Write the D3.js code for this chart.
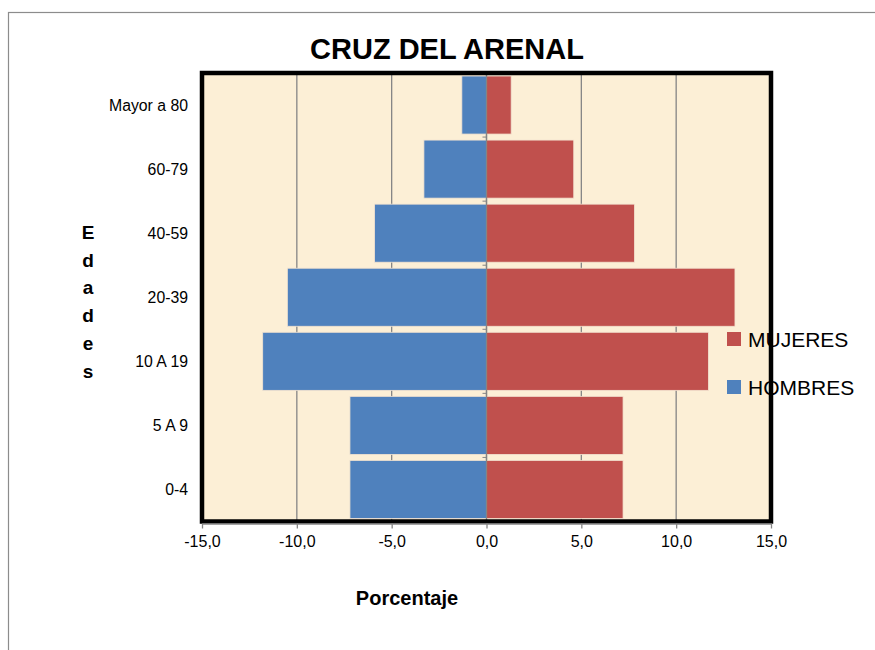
<!DOCTYPE html>
<html>
<head>
<meta charset="utf-8">
<script src="https://cdn.jsdelivr.net/npm/d3@7"></script>
<style>
  body { margin: 0; background: #fff; }
  svg { display: block; font-family: "Liberation Sans", Arial, sans-serif; }
</style>
</head>
<body>
<div id="chart"></div>
<script>
// age groups, bottom to top
var categories = ["0-4", "5 A 9", "10 A 19", "20-39", "40-59", "60-79", "Mayor a 80"];
var hombres = [-7.2, -7.2, -11.8, -10.5, -5.9, -3.3, -1.3];
var mujeres = [7.2, 7.2, 11.7, 13.1, 7.8, 4.6, 1.3];
var xTicks = [-15, -10, -5, 0, 5, 10, 15];
var seriesNames = ["MUJERES", "HOMBRES"];

var width = 875, height = 650;
var plot = {left: 202, right: 771, top: 73, bottom: 521.5};

var svg = d3.select("#chart")
  .append("svg")
    .attr("width", width)
    .attr("height", height);

// outer chart frame
svg.append("rect")
  .attr("x", 8.5).attr("y", 12.5)
  .attr("width", 900).attr("height", 700)
  .attr("fill", "#fff")
  .attr("stroke", "#8c8c8c")
  .attr("stroke-width", 1.2);

var x = d3.scaleLinear()
  .domain([-15, 15])
  .range([plot.left, plot.right]);

var y = d3.scaleBand()
  .domain(categories.slice().reverse())
  .range([plot.top, plot.bottom])
  .paddingInner(0.094)
  .paddingOuter(0.047);

var loc = d3.formatLocale({decimal: ",", thousands: ".", grouping: [3], currency: ["", ""], minus: "-"});
var fmt = loc.format(".1f");

// plot background
svg.append("rect")
  .attr("x", plot.left).attr("y", plot.top)
  .attr("width", plot.right - plot.left)
  .attr("height", plot.bottom - plot.top)
  .attr("fill", "#fcefd6");

// gridlines
svg.append("g")
  .selectAll("line")
  .data(xTicks.filter(function(d) { return d !== -15 && d !== 15; }))
  .enter().append("line")
    .attr("x1", function(d) { return x(d); })
    .attr("x2", function(d) { return x(d); })
    .attr("y1", plot.top)
    .attr("y2", plot.bottom)
    .attr("stroke", "#858585")
    .attr("stroke-width", 1.3);

// bars
var rows = categories.map(function(c, i) { return {cat: c, h: hombres[i], m: mujeres[i]}; });

svg.append("g")
  .selectAll("rect")
  .data(rows)
  .enter().append("rect")
    .attr("x", function(d) { return x(d.h); })
    .attr("y", function(d) { return y(d.cat); })
    .attr("width", function(d) { return x(0) - x(d.h); })
    .attr("height", y.bandwidth())
    .attr("fill", "#4f81bd")
    .attr("stroke", "#f3e3d0")
    .attr("stroke-width", 0.8);

svg.append("g")
  .selectAll("rect")
  .data(rows)
  .enter().append("rect")
    .attr("x", x(0))
    .attr("y", function(d) { return y(d.cat); })
    .attr("width", function(d) { return x(d.m) - x(0); })
    .attr("height", y.bandwidth())
    .attr("fill", "#c0504d")
    .attr("stroke", "#f3e3d0")
    .attr("stroke-width", 0.8);

// vertical category axis at zero
var yAxisLine = svg.append("g");
yAxisLine.append("line")
  .attr("x1", x(0)).attr("x2", x(0))
  .attr("y1", plot.top).attr("y2", plot.bottom)
  .attr("stroke", "#858585")
  .attr("stroke-width", 1.3);
var bounds = [plot.top];
categories.slice().reverse().forEach(function(c) {
  bounds.push(y(c) + y.bandwidth() + y.step() * y.paddingInner() / 2);
});
yAxisLine.selectAll(".tk")
  .data(bounds)
  .enter().append("line")
    .attr("x1", x(0) - 4).attr("x2", x(0))
    .attr("y1", function(d) { return d; })
    .attr("y2", function(d) { return d; })
    .attr("stroke", "#858585");

// category labels
svg.append("g")
  .selectAll("text")
  .data(categories)
  .enter().append("text")
    .attr("x", 188)
    .attr("y", function(d) { return y(d) + y.bandwidth() / 2; })
    .attr("dy", "0.35em")
    .attr("text-anchor", "end")
    .attr("font-size", 15.8)
    .attr("fill", "#000")
    .text(function(d) { return d; });

// legend (drawn before border so the frame crosses it)
var legend = svg.append("g");
var legendColors = ["#c0504d", "#4f81bd"];
seriesNames.forEach(function(name, i) {
  var ly = 339 + i * 48;
  legend.append("rect")
    .attr("x", 727).attr("y", ly - 7)
    .attr("width", 14).attr("height", 14)
    .attr("fill", legendColors[i]);
  legend.append("text")
    .attr("x", 748).attr("y", ly)
    .attr("dy", "0.36em")
    .attr("font-size", 21)
    .attr("fill", "#000")
    .text(name);
});

// plot border
svg.append("rect")
  .attr("x", plot.left).attr("y", plot.top)
  .attr("width", plot.right - plot.left)
  .attr("height", plot.bottom - plot.top)
  .attr("fill", "none")
  .attr("stroke", "#000")
  .attr("stroke-width", 4.5);

// x axis
var xAxis = svg.append("g")
  .attr("transform", "translate(0," + (plot.bottom + 2) + ")")
  .call(d3.axisBottom(x).tickValues(xTicks).tickFormat(fmt).tickSizeInner(5).tickSizeOuter(0));
xAxis.select(".domain").attr("stroke", "#858585").attr("stroke-width", 1.3);
xAxis.selectAll(".tick line").attr("stroke", "#858585").attr("stroke-width", 1.3);
xAxis.selectAll("text")
  .attr("font-family", "Liberation Sans, Arial, sans-serif")
  .attr("font-size", 16)
  .attr("fill", "#000")
  .attr("dy", "0.95em");

// title
svg.append("text")
  .attr("x", 447).attr("y", 59)
  .attr("text-anchor", "middle")
  .attr("font-size", 29)
  .attr("font-weight", "bold")
  .text("CRUZ DEL ARENAL");

// x axis title
svg.append("text")
  .attr("x", 407).attr("y", 605)
  .attr("text-anchor", "middle")
  .attr("font-size", 20)
  .attr("font-weight", "bold")
  .text("Porcentaje");

// y axis title, stacked letters
svg.append("g")
  .selectAll("text")
  .data("Edades".split(""))
  .enter().append("text")
    .attr("x", 88)
    .attr("y", function(d, i) { return 239 + i * 27.7; })
    .attr("text-anchor", "middle")
    .attr("font-size", 19)
    .attr("font-weight", "bold")
    .text(function(d) { return d; });
</script>
</body>
</html>
